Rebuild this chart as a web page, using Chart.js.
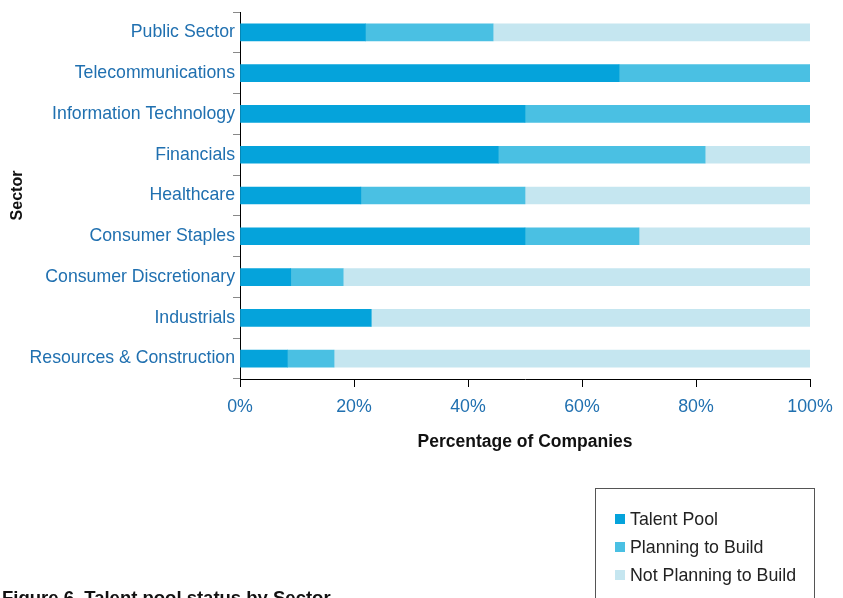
<!DOCTYPE html>
<html>
<head>
<meta charset="utf-8">
<script src="https://cdn.jsdelivr.net/npm/chart.js@4"></script>
<style>
  html, body { margin: 0; padding: 0; background: #fff; overflow: hidden; }
  #wrap { position: relative; width: 843px; height: 598px; font-family: "Liberation Sans", Arial, sans-serif; }
  #legend { position: absolute; left: 595px; top: 488px; width: 220px; height: 130px; border: 1.5px solid #555; box-sizing: border-box; }
  .item { position: absolute; left: 19px; font-size: 17.8px; color: #222; line-height: 20px; white-space: nowrap; }
  .item span { display: inline-block; width: 10px; height: 10px; margin-right: 5px; vertical-align: 1px; }
  #caption { position: absolute; left: 2px; top: 589px; font-size: 18.5px; font-weight: bold; line-height: 1; color: #111; white-space: nowrap; }
</style>
</head>
<body>
<div id="wrap">
  <canvas id="myChart" width="843" height="598"></canvas>
  <div id="legend"></div>
  <div id="caption">Figure 6. Talent pool status by Sector</div>
</div>
<script>
var sectors = ['Public Sector', 'Telecommunications', 'Information Technology', 'Financials',
  'Healthcare', 'Consumer Staples', 'Consumer Discretionary', 'Industrials', 'Resources & Construction'];
var talentPool  = [22, 66.5, 50, 45.3, 21.2, 50, 8.9, 23, 8.3];
var planning    = [22.4, 33.5, 50, 36.3, 28.8, 20, 9.2, 0, 8.2];
var notPlanning = [55.6, 0, 0, 18.4, 50, 30, 81.9, 77, 83.5];
var xTicks = [0, 20, 40, 60, 80, 100];

var seriesNames = ['Talent Pool', 'Planning to Build', 'Not Planning to Build'];
var colors = ['#05a3db', '#4ac0e3', '#c5e6f0'];
var blue = '#2070b0';

var ctx = document.getElementById('myChart').getContext('2d');
var chart = new Chart(ctx, {
  type: 'bar',
  data: {
    labels: sectors,
    datasets: [talentPool, planning, notPlanning].map(function (d, i) {
      return { label: seriesNames[i], data: d, backgroundColor: colors[i], barThickness: 17 };
    })
  },
  options: {
    indexAxis: 'y',
    responsive: false,
    animation: false,
    layout: { padding: { top: 12, right: 33, left: 0, bottom: 144 } },
    plugins: { legend: { display: false }, tooltip: { enabled: false } },
    scales: {
      x: {
        stacked: true,
        min: 0, max: 100,
        afterBuildTicks: function (s) { s.ticks = xTicks.map(function (v) { return { value: v }; }); },
        afterFit: function (s) { s.height = 75; },
        ticks: { color: blue, font: { size: 17.8, family: 'Liberation Sans' }, padding: 9, maxRotation: 0,
          callback: function (v) { return v + '%'; } },
        grid: { drawOnChartArea: false, tickLength: 8, color: '#000' },
        border: { color: '#000' },
        title: { display: true, text: 'Percentage of Companies', color: '#111',
          font: { size: 17.5, weight: 'bold', family: 'Liberation Sans' }, padding: { top: 0, bottom: 1 } }
      },
      y: {
        stacked: true,
        afterFit: function (s) { s.width = 240; },
        ticks: { color: blue, font: { size: 17.7, family: 'Liberation Sans' }, padding: -2 },
        grid: { drawOnChartArea: false, tickLength: 7, color: '#888' },
        border: { color: '#000' },
        title: { display: true, text: 'Sector', color: '#111',
          font: { size: 16, weight: 'bold', family: 'Liberation Sans' }, padding: { top: 8, bottom: 0 } }
      }
    }
  }
});

// legend built from the chart's datasets
var legend = document.getElementById('legend');
chart.data.datasets.forEach(function (ds, i) {
  var el = document.createElement('div');
  el.className = 'item';
  el.style.top = (20 + i * 28) + 'px';
  el.innerHTML = '<span style="background:' + ds.backgroundColor + '"></span>' + ds.label;
  legend.appendChild(el);
});
</script>
</body>
</html>
